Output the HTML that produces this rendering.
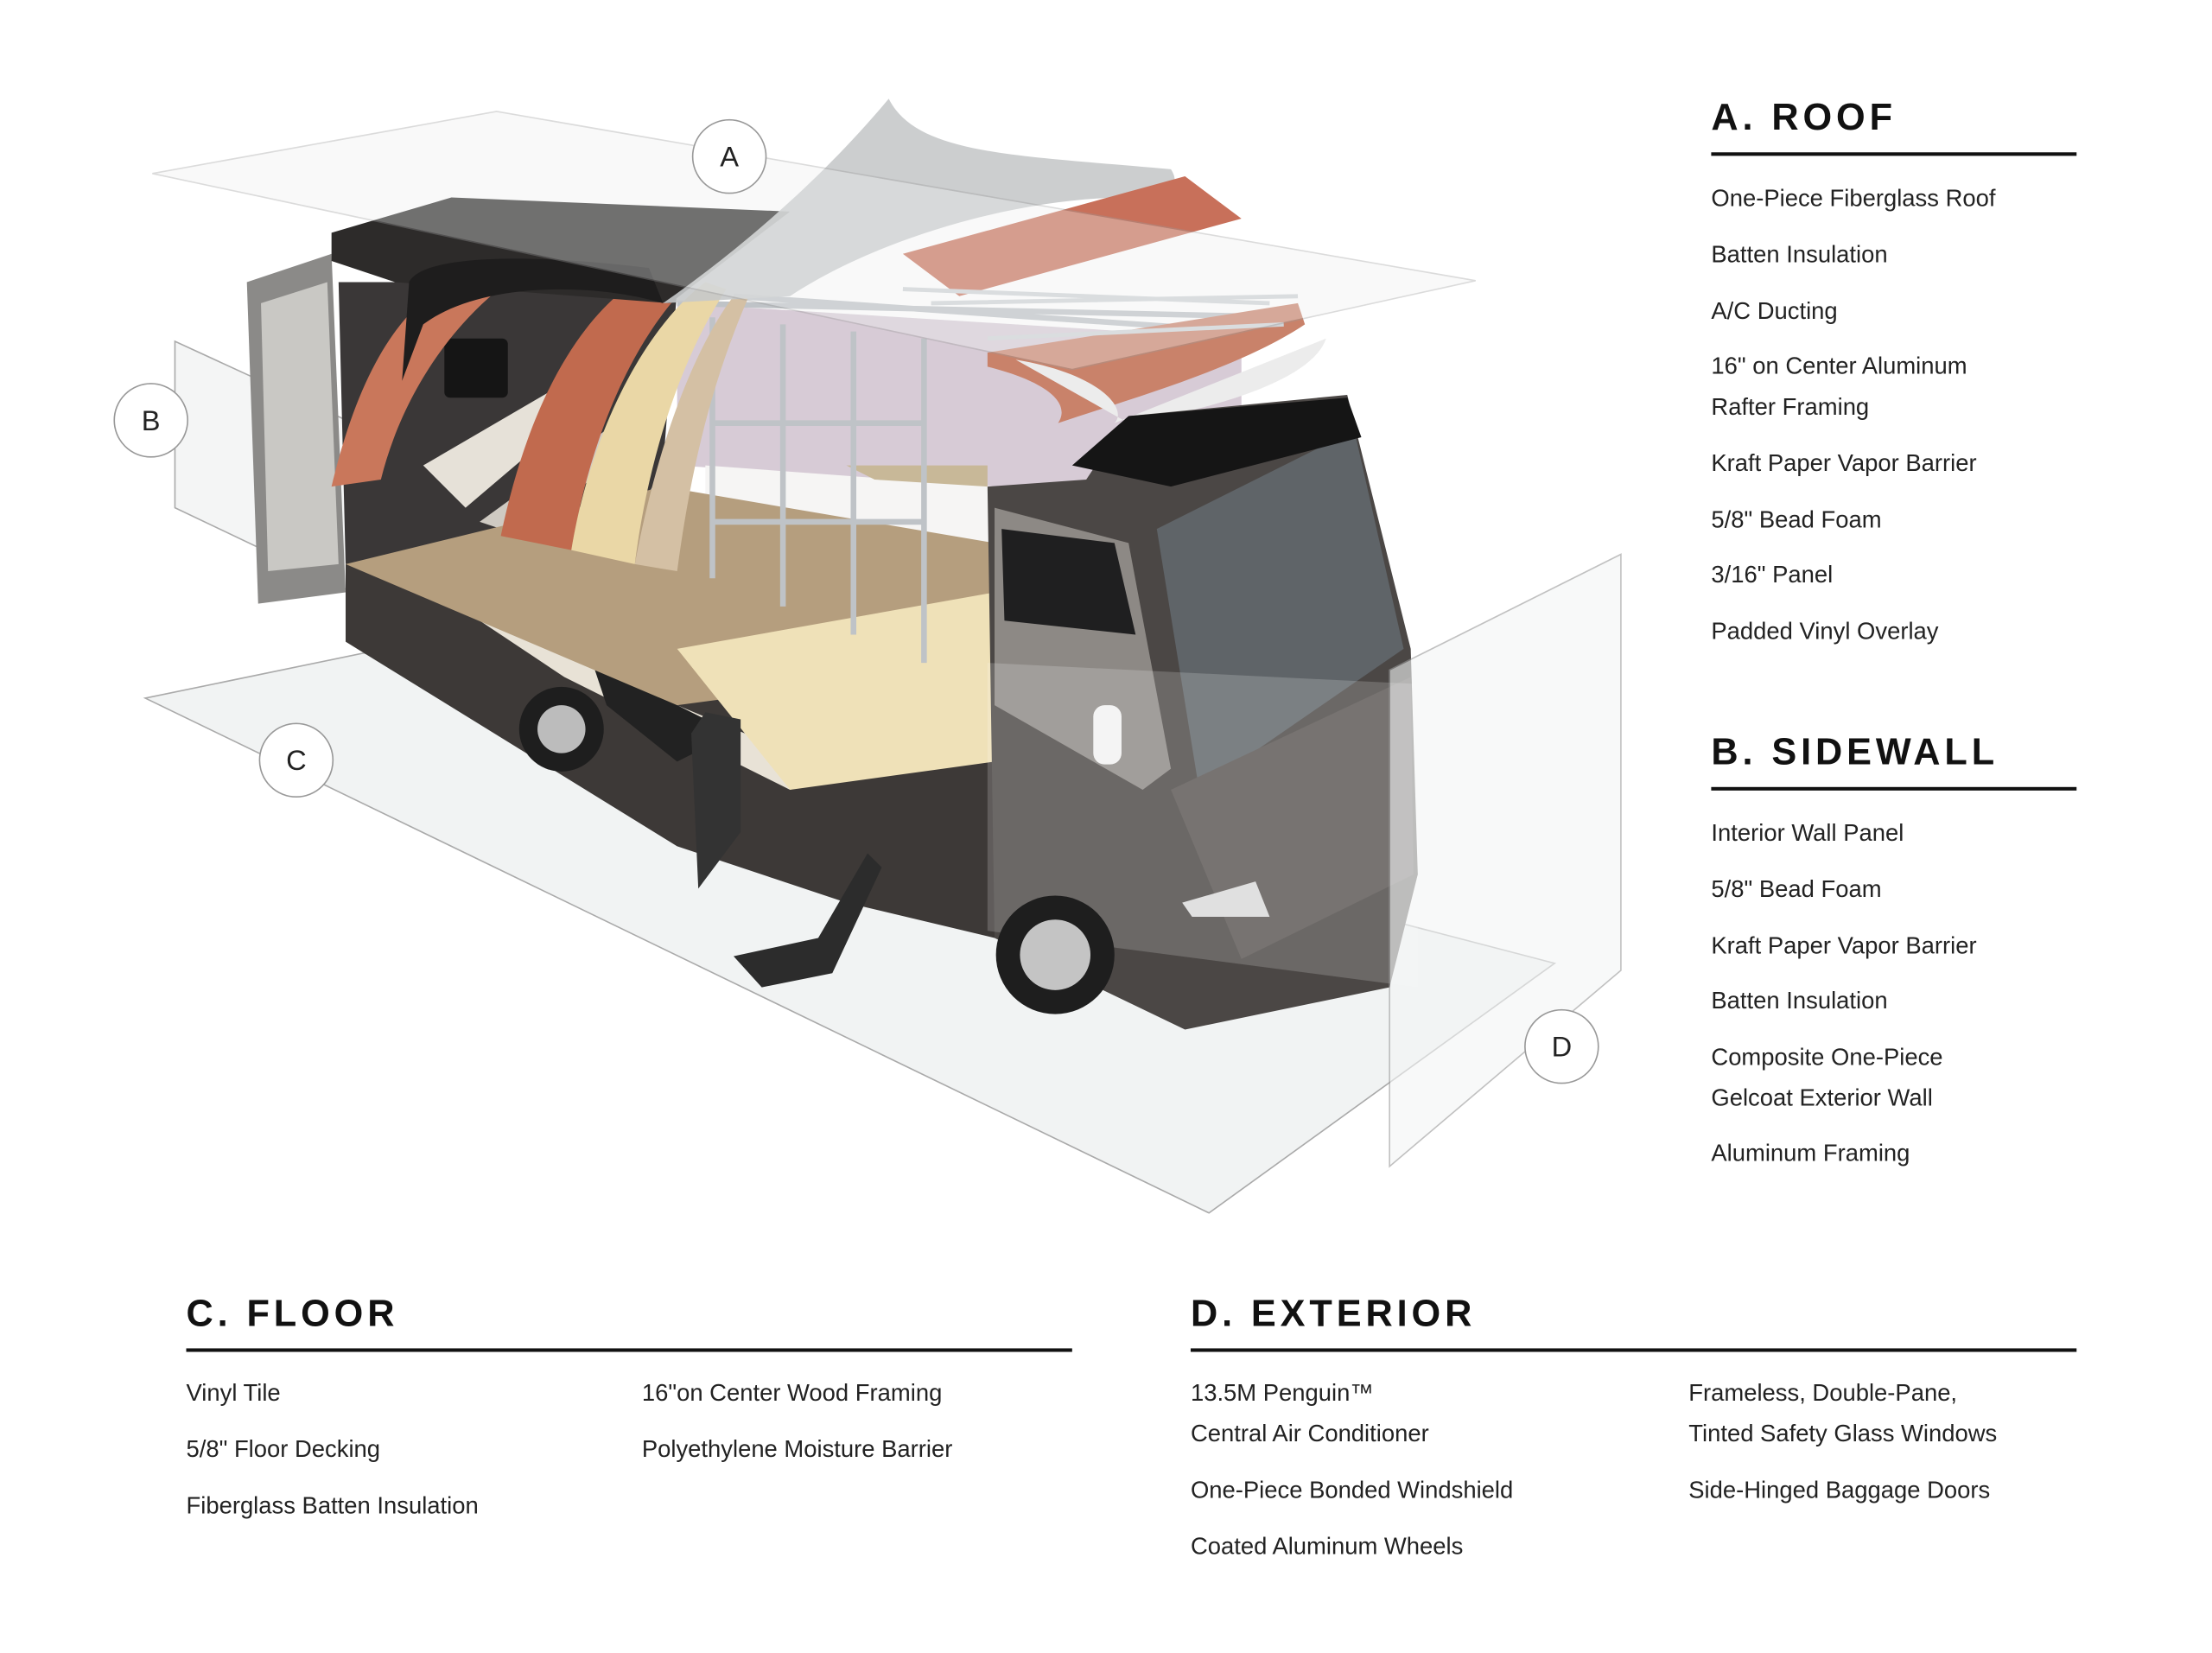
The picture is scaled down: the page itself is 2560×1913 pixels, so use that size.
<!DOCTYPE html>
<html><head><meta charset="utf-8"><style>
html,body{margin:0;padding:0;background:#fff;}
svg{display:block;}
.h{font-family:"Liberation Sans",sans-serif;font-weight:bold;font-size:26.5px;letter-spacing:3px;fill:#111;}
.t{font-family:"Liberation Sans",sans-serif;font-size:16.8px;fill:#222;}
.c{font-family:"Liberation Sans",sans-serif;font-size:20px;fill:#222;text-anchor:middle;}
</style></head><body>
<svg width="2560" height="1913" viewBox="0 0 1568 1172" preserveAspectRatio="none" xmlns="http://www.w3.org/2000/svg">
<rect width="1568" height="1172" fill="#fff"/>
<polygon points="103,495 258,463 1102,683 857,860" fill="#f1f3f3" stroke="#aaa" stroke-width="1"/>
<polygon points="124,242 124,360 250,420 250,300" fill="#f4f5f5" stroke="#aaa" stroke-width="1"/>
<polygon points="175,200 235,180 245,420 183,428" fill="#8b8a88"/>
<polygon points="185,215 232,200 240,400 190,405" fill="#c9c8c4"/>
<!-- dark sidewall behind sheets -->
<path d="M285,200 C330,185 420,190 480,205 L470,330 L440,390 L245,400 L240,200 Z" fill="#3a3737"/>
<polygon points="300,330 420,260 430,275 330,360" fill="#e6e1d8"/>
<polygon points="340,370 450,290 455,310 370,380" fill="#cfcac2"/>
<rect x="315" y="240" width="45" height="42" rx="4" fill="#151515"/>
<polygon points="245,400 705,470 705,665 600,640 480,600 245,455" fill="#3d3937"/>
<polygon points="340,440 480,500 600,550 560,560 400,480" fill="#e8e2d6"/>
<polygon points="420,470 520,520 480,540 430,500" fill="#222"/>
<polygon points="480,215 880,240 880,335 705,345 480,330" fill="#d7cbd6"/>
<polygon points="500,330 705,345 705,440 500,420" fill="#f6f5f4"/>
<polygon points="600,330 700,330 700,345 620,340" fill="#c8b898"/>
<polygon points="245,400 470,345 705,385 705,470 480,500" fill="#b59e7e"/>
<polygon points="480,460 705,420 705,540 560,560" fill="#efe1b8"/>
<g stroke="#bfc3c7" stroke-width="4" fill="none">
<path d="M505,225 V410 M555,230 V430 M605,235 V450 M655,240 V470 M505,300 H655 M505,370 H655"/>
<path d="M480,215 L920,225 L760,270 M520,210 L880,235"/>
</g>
<path d="M235,345 C260,240 300,200 345,190 L360,200 C320,230 285,280 270,340 Z" fill="#c9775b"/>
<path d="M355,380 C380,260 430,200 480,185 L495,195 C455,230 420,300 405,390 Z" fill="#c16a4e"/>
<path d="M405,390 C420,300 460,230 500,200 L515,205 C485,250 460,320 450,400 Z" fill="#ead7a6"/>
<path d="M450,400 C465,320 490,250 520,210 L530,212 C505,270 490,330 480,405 Z" fill="#d4c0a4"/>
<polygon points="235,165 320,140 560,150 475,215 280,200 235,185" fill="#2d2b2a"/>
<path d="M290,200 C300,180 380,180 460,190 L470,215 C420,200 340,200 300,230 L285,270 Z" fill="#1e1d1d"/>
<path d="M470,215 C520,180 580,130 630,70 C650,110 720,110 830,120 C840,135 820,140 800,140 C720,140 620,170 560,210 Z" fill="#c7c9ca" opacity="0.9"/>
<polygon points="640,180 840,125 880,155 680,210" fill="#c8705a"/>
<path d="M700,250 L920,215 L925,230 C880,260 810,280 750,300 C760,285 740,270 700,260 Z" fill="#c9826a"/>
<path d="M720,255 C780,265 800,290 790,300 L940,240 C930,270 860,290 800,300 Z" fill="#ececec"/>
<g stroke="#d0d3d6" stroke-width="3" fill="none"><path d="M660,215 L920,210 M700,240 L910,230 M640,205 L900,215"/></g>
<polygon points="700,345 770,340 800,295 955,280 1000,460 1005,620 985,700 840,730 705,665" fill="#4b4745"/>
<polygon points="705,360 800,385 830,545 810,560 705,500" fill="#8d8985"/>
<polygon points="710,375 790,385 805,450 712,440" fill="#1f1f20"/>
<polygon points="820,375 960,305 995,460 850,560" fill="#5f6468"/>
<polygon points="760,330 800,295 955,282 965,310 830,345" fill="#151515"/>
<polygon points="830,560 1000,480 1002,620 880,680" fill="#5a5552"/>
<polygon points="838,640 890,625 900,650 845,650" fill="#d9d9d9"/>
<rect x="775" y="500" width="20" height="42" rx="8" fill="#f2f2f2"/>
<polygon points="700,470 1005,485 1005,700 700,660" fill="#fff" opacity="0.18"/>
<polygon points="985,475 1149,393 1149,688 985,827" fill="#f4f6f6" opacity="0.6" stroke="#999" stroke-width="1"/>
<circle cx="398" cy="517" r="30" fill="#1e1e1e"/><circle cx="398" cy="517" r="17" fill="#bcbcbc"/>
<circle cx="748" cy="677" r="42" fill="#1e1e1e"/><circle cx="748" cy="677" r="25" fill="#c4c4c4"/>
<polygon points="520,678 580,665 615,605 625,615 590,690 540,700" fill="#2c2c2c"/>
<polygon points="490,520 500,505 525,510 525,590 495,630" fill="#333"/>
<polygon points="108,123 352,79 1046,199 760,262" fill="#eef0f0" opacity="0.35" stroke="#999" stroke-width="1"/>
<g fill="#fff" stroke="#999" stroke-width="1">
<circle cx="517" cy="111" r="26"/><circle cx="107" cy="298" r="26"/><circle cx="210" cy="539" r="26"/><circle cx="1107" cy="742" r="26"/></g>
<text class="c" x="517" y="118">A</text><text class="c" x="107" y="305">B</text><text class="c" x="210" y="546">C</text><text class="c" x="1107" y="749">D</text>
<text class="h" x="1213" y="92">A. ROOF</text>
<rect x="1213" y="108" width="259" height="2.5" fill="#111"/>
<g class="t">
<text x="1213" y="146">One-Piece Fiberglass Roof</text>
<text x="1213" y="186">Batten Insulation</text>
<text x="1213" y="226">A/C Ducting</text>
<text x="1213" y="265">16" on Center Aluminum</text>
<text x="1213" y="294">Rafter Framing</text>
<text x="1213" y="334">Kraft Paper Vapor Barrier</text>
<text x="1213" y="374">5/8" Bead Foam</text>
<text x="1213" y="413">3/16" Panel</text>
<text x="1213" y="453">Padded Vinyl Overlay</text>
</g>
<text class="h" x="1213" y="542">B. SIDEWALL</text>
<rect x="1213" y="558" width="259" height="2.5" fill="#111"/>
<g class="t">
<text x="1213" y="596">Interior Wall Panel</text>
<text x="1213" y="636">5/8" Bead Foam</text>
<text x="1213" y="676">Kraft Paper Vapor Barrier</text>
<text x="1213" y="715">Batten Insulation</text>
<text x="1213" y="755">Composite One-Piece</text>
<text x="1213" y="784">Gelcoat Exterior Wall</text>
<text x="1213" y="823">Aluminum Framing</text>
</g>
<text class="h" x="132" y="940">C. FLOOR</text>
<rect x="132" y="956" width="628" height="2.5" fill="#111"/>
<g class="t">
<text x="132" y="993">Vinyl Tile</text>
<text x="132" y="1033">5/8" Floor Decking</text>
<text x="132" y="1073">Fiberglass Batten Insulation</text>
<text x="455" y="993">16"on Center Wood Framing</text>
<text x="455" y="1033">Polyethylene Moisture Barrier</text>
</g>
<text class="h" x="844" y="940">D. EXTERIOR</text>
<rect x="844" y="956" width="628" height="2.5" fill="#111"/>
<g class="t">
<text x="844" y="993">13.5M Penguin™</text>
<text x="844" y="1022">Central Air Conditioner</text>
<text x="844" y="1062">One-Piece Bonded Windshield</text>
<text x="844" y="1102">Coated Aluminum Wheels</text>
<text x="1197" y="993">Frameless, Double-Pane,</text>
<text x="1197" y="1022">Tinted Safety Glass Windows</text>
<text x="1197" y="1062">Side-Hinged Baggage Doors</text>
</g>
</svg>
</body></html>
